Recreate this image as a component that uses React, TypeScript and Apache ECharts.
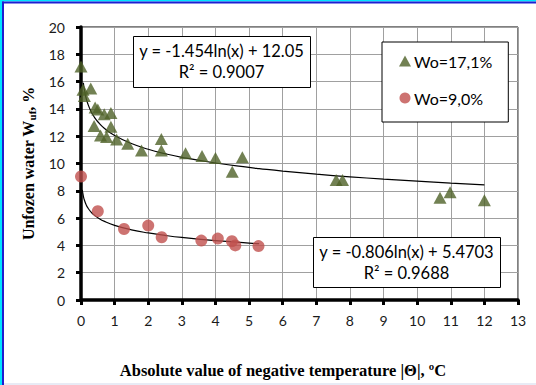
import React, { useEffect, useRef } from "react";
import * as echarts from "echarts";

const wo171X = [0, 0.06, 0.1, 0.29, 0.42, 0.5, 0.39, 0.58, 0.69, 0.89, 0.76, 0.89, 1.06, 1.39, 1.8, 2.39, 2.39, 3.11, 3.6, 4.0, 4.5, 4.8, 7.59, 7.78, 10.68, 10.98, 12.0];
const wo171Y = [17.1, 15.4, 14.95, 15.5, 14.1, 13.95, 12.75, 12.05, 13.6, 13.7, 11.95, 12.7, 11.75, 11.45, 10.95, 11.8, 10.95, 10.75, 10.55, 10.4, 9.4, 10.45, 8.8, 8.8, 7.5, 7.9, 7.3];

const wo90X = [0, 0.5, 1.28, 2.0, 2.4, 3.58, 4.07, 4.49, 4.59, 5.28];
const wo90Y = [9.05, 6.5, 5.2, 5.45, 4.6, 4.35, 4.5, 4.3, 4.0, 3.95];

// trendline equations shown on the chart
const fit171 = { a: -1.454, b: 12.05, from: 0.07, to: 12 };
const fit90 = { a: -0.806, b: 5.4703, from: 0.04, to: 5.3 };
const trendX = [0.04, 0.05, 0.07, 0.1, 0.15, 0.2, 0.3, 0.4, 0.5, 0.7, 1, 1.5, 2, 2.5, 3, 4, 5, 5.3, 6, 7, 8, 9, 10, 11, 12];

const xTicks = { min: 0, max: 13, interval: 1 };
const yTicks = { min: 0, max: 20, interval: 2 };

const eq1 = ["y = -1.454ln(x) + 12.05", "R² = 0.9007"];
const eq2 = ["y = -0.806ln(x) + 5.4703", "R² = 0.9688"];
const legendNames = ["Wo=17,1%", "Wo=9,0%"];

function trend(f: { a: number; b: number; from: number; to: number }) {
  const xs = trendX.filter((x) => x >= f.from && x <= f.to);
  if (xs[0] !== f.from) xs.unshift(f.from);
  if (xs[xs.length - 1] !== f.to) xs.push(f.to);
  return xs.map((x) => [x, f.a * Math.log(x) + f.b]);
}

const GREEN = "#4f6228";
const RED = "#c0504d";
const LAB = "Lato, 'Open Sans', sans-serif";
const SERIF = "'Liberation Serif', 'DejaVu Serif', serif";

export default function App() {
  const ref = useRef<HTMLDivElement>(null);
  useEffect(() => {
    const chart = echarts.init(ref.current!, null, { renderer: "svg" });
    const eqBox = (left: number, top: number, w: number, h: number, lines: string[]) => [
      {
        type: "rect",
        left,
        top,
        z: 100,
        shape: { x: 0, y: 0, width: w, height: h },
        style: { fill: "#fff", stroke: "#000", lineWidth: 1 },
      },
      {
        type: "text",
        x: left + w / 2,
        y: top + h / 2,
        z: 101,
        style: {
          text: lines.join("\n"),
          fontFamily: LAB,
          fontSize: 16.5,
          lineHeight: 21,
          fill: "#000",
          align: "center",
          verticalAlign: "middle",
        },
      },
    ];
    chart.setOption({
      animation: false,
      backgroundColor: "#fff",
      grid: {
        left: 81,
        right: 18,
        top: 27,
        bottom: 85,
        outerBoundsMode: "none",
        containLabel: false,
        show: true,
        borderColor: "#000",
        borderWidth: 1,
        backgroundColor: "transparent",
      },
      xAxis: {
        type: "value",
        ...xTicks,
        axisLine: { show: true, onZero: false, lineStyle: { color: "#000", width: 3.5 } },
        axisTick: { show: true, length: 5, lineStyle: { color: "#000", width: 3 } },
        axisLabel: { margin: 13, fontFamily: LAB, fontSize: 14, color: "#1a1a1a" },
        splitLine: { show: true, lineStyle: { color: "#a0a0a0", width: 1 } },
        name: "Absolute value of negative temperature |Θ|, ºC",
        nameLocation: "middle",
        nameGap: 62,
        nameTextStyle: { fontFamily: SERIF, fontWeight: "bold", fontSize: 16.5, color: "#000", padding: [0, 33, 0, 0] },
      },
      yAxis: {
        type: "value",
        ...yTicks,
        axisLine: { show: true, onZero: false, lineStyle: { color: "#000", width: 3.5 } },
        axisTick: { show: true, length: 5, lineStyle: { color: "#000", width: 3 } },
        axisLabel: { margin: 16, fontFamily: LAB, fontSize: 14, color: "#1a1a1a" },
        splitLine: { show: true, lineStyle: { color: "#a0a0a0", width: 1 } },
        name: "Unfozen water W{sub|uf}, %",
        nameLocation: "middle",
        nameRotate: 90,
        nameGap: 43,
        nameTextStyle: {
          fontFamily: SERIF,
          fontWeight: "bold",
          fontSize: 16,
          color: "#000",
          rich: {
            sub: { fontFamily: SERIF, fontWeight: "bold", fontSize: 11, color: "#000", verticalAlign: "top", padding: [7, 0, 0, 0] },
          },
        },
      },
      legend: {
        show: true,
        orient: "vertical",
        left: 382,
        top: 42,
        data: [
          { name: legendNames[0], icon: "triangle" },
          { name: legendNames[1], icon: "circle" },
        ],
        itemWidth: 12,
        itemHeight: 11,
        itemGap: 21,
        padding: [11, 16, 16, 17],
        borderColor: "#000",
        borderWidth: 1,
        backgroundColor: "#fff",
        textStyle: { fontFamily: LAB, fontSize: 16, color: "#000", padding: [0, 0, 0, -2] },
      },
      series: [
        {
          name: "trend171",
          type: "line",
          data: trend(fit171),
          showSymbol: false,
          smooth: true,
          lineStyle: { color: "#000", width: 1.2 },
          z: 3,
          silent: true,
        },
        {
          name: "trend90",
          type: "line",
          data: trend(fit90),
          showSymbol: false,
          smooth: true,
          lineStyle: { color: "#000", width: 1.2 },
          z: 3,
          silent: true,
        },
        {
          name: legendNames[0],
          type: "scatter",
          symbol: "triangle",
          symbolSize: [13, 12],
          itemStyle: { color: GREEN },
          data: wo171X.map((x, i) => [x, wo171Y[i]]),
          z: 4,
        },
        {
          name: legendNames[1],
          type: "scatter",
          symbol: "circle",
          symbolSize: 12,
          itemStyle: { color: RED },
          data: wo90X.map((x, i) => [x, wo90Y[i]]),
          z: 4,
        },
      ],
      graphic: [
        ...eqBox(133, 36, 177, 51, eq1),
        ...eqBox(313, 237, 187, 50, eq2),
        { type: "rect", left: 0, top: 0, shape: { width: 536, height: 1.5 }, style: { fill: "#00e5ff" }, z: 200 },
        { type: "rect", left: 0, top: 0, shape: { width: 2, height: 385 }, style: { fill: "#00e5ff" }, z: 200 },
        { type: "rect", left: 2, top: 1.5, shape: { width: 534, height: 2 }, style: { fill: "#1e1ed2" }, z: 200 },
        { type: "rect", left: 2, top: 1.5, shape: { width: 2, height: 384 }, style: { fill: "#1e1ed2" }, z: 200 },
        { type: "rect", left: 4, top: 383, shape: { width: 532, height: 2 }, style: { fill: "#e8ebf5" }, z: 200 },
      ],
    });
    return () => chart.dispose();
  }, []);
  return <div ref={ref} style={{ position: "absolute", left: 0, top: 0, width: 536, height: 385 }} />;
}
